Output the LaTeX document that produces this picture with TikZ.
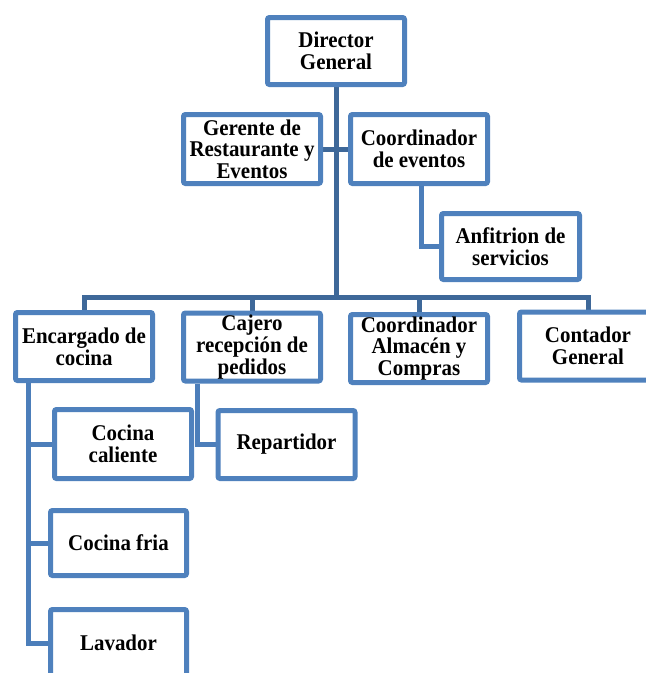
\documentclass[tikz,border=0pt]{standalone}
\usepackage{fontspec}
\setmainfont[FakeStretch=0.93]{Liberation Serif}
\usetikzlibrary{backgrounds}
\definecolor{boxblue}{RGB}{79,129,189}
\definecolor{linkdark}{RGB}{62,104,153}
\definecolor{linklight}{RGB}{76,126,186}
\tikzset{
  orgbox/.style={draw=boxblue, line width=5pt, fill=white, rounded corners=2pt,
    align=center, inner sep=0pt, minimum width=137pt, minimum height=68pt,
    font=\fontsize{22.5pt}{21.6pt}\selectfont\bfseries},
  toplink/.style={draw=linkdark, line width=5pt},
  sublink/.style={draw=linklight, line width=5pt},
}
\begin{document}
\begin{tikzpicture}[x=1pt, y=-1pt]
\useasboundingbox (0,0) rectangle (646,673);

% top level
\node[orgbox, minimum height=67pt] (dir) at (336,51) {Director\\General};
\node[orgbox, minimum height=69pt] (ger) at (252,149) {Gerente de\\Restaurante y\\Eventos};
\node[orgbox, minimum height=69pt] (coe) at (419,149) {Coordinador\\de eventos};
\node[orgbox, minimum width=138pt, minimum height=66pt] (anf) at (510.5,246.5) {Anfitrion de\\servicios};

% second row
\node[orgbox] (enc) at (84,346.5) {Encargado de\\cocina};
\node[orgbox] (caj) at (252,347) {Cajero\\recepción de\\pedidos};
\node[orgbox] (alm) at (419,348.5) {Coordinador\\Almacén y\\Compras};
\node[orgbox] (con) at (588,346) {Contador\\General};

% kitchen and delivery staff
\node[orgbox, minimum height=69pt] (coc) at (123,444) {Cocina\\caliente};
\node[orgbox] (rep) at (286.5,444.5) {Repartidor};
\node[orgbox, minimum width=136pt, minimum height=65pt] (fri) at (118.5,543) {Cocina fria};
\node[orgbox, minimum width=136pt, minimum height=67pt] (lav) at (118.5,643) {Lavador};

% bus line feeding the second row
\coordinate (busL) at (84,297);
\coordinate (busR) at (588,297);

\begin{scope}[on background layer]
  \draw[toplink] (dir.south) -- (dir.south |- busL);
  \draw[toplink] (ger.east) -- (coe.west);
  \draw[toplink, line cap=rect] (busL) -- (busR);
  \draw[toplink] (busL) -- (enc.north);
  \draw[toplink] (caj.north |- busL) -- (caj.north);
  \draw[toplink] (alm.north |- busL) -- (alm.north);
  \draw[toplink] (busR) -- (con.north);
  \draw[sublink] ([xshift=2pt]coe.south) |- (anf.west);
  \draw[sublink] ([xshift=-56pt]enc.south) |- (coc.west);
  \draw[sublink] ([xshift=-56pt]enc.south) |- (fri.west);
  \draw[sublink] ([xshift=-56pt]enc.south) |- (lav.west);
  \draw[sublink] ([xshift=-55pt]caj.south) |- (rep.west);
\end{scope}
\end{tikzpicture}
\end{document}
